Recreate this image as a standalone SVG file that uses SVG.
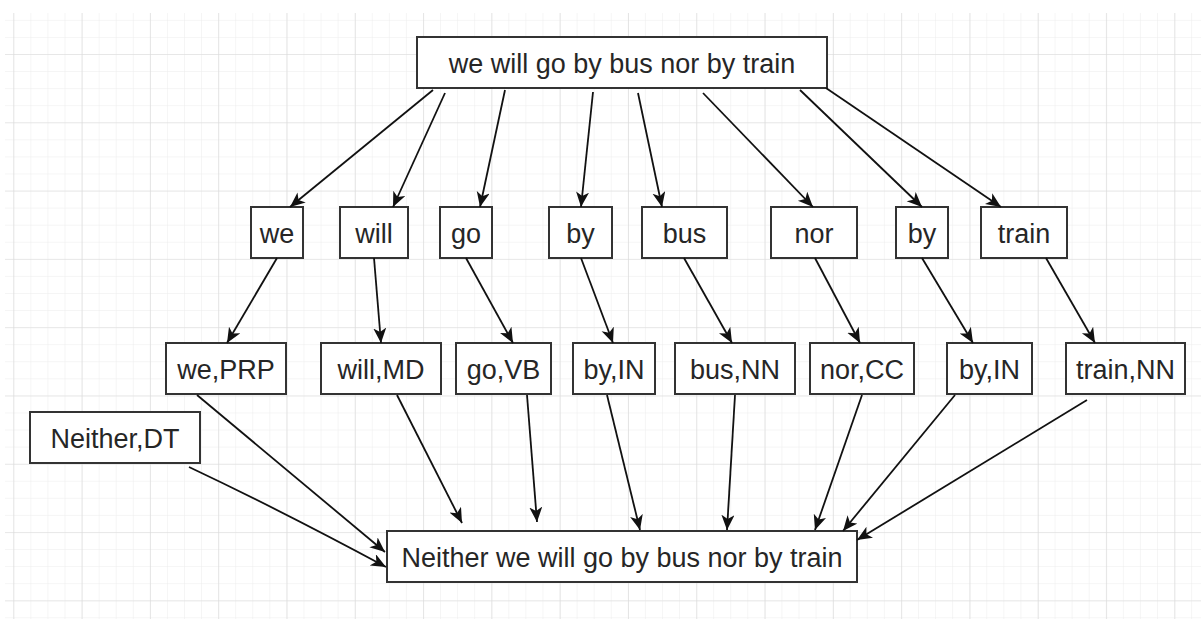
<svg xmlns="http://www.w3.org/2000/svg" width="1201" height="619" viewBox="0 0 1201 619">
  <defs>
    <pattern id="minor" x="13.3" y="54" width="17.07" height="17.07" patternUnits="userSpaceOnUse">
      <path d="M0,0 H17.07 M0,0 V17.07" fill="none" stroke="#ececec" stroke-width="1"/>
    </pattern>
    <pattern id="major" x="13.3" y="54" width="68.3" height="68.3" patternUnits="userSpaceOnUse">
      <path d="M0,0 H68.3 M0,0 V68.3" fill="none" stroke="#dadada" stroke-width="1.2"/>
    </pattern>
    <marker id="arrow" markerUnits="userSpaceOnUse" markerWidth="16" markerHeight="14" refX="15" refY="6.5" orient="auto">
      <path d="M0,0 L15,6.5 L0,13 L4,6.5 Z" fill="#111"/>
    </marker>
    <style>
      .box { fill: #fff; stroke: #333; stroke-width: 2; }
      .lbl { font-family: "Liberation Sans", Arial, sans-serif; font-size: 27px; fill: #262626; text-anchor: middle; }
      .edge { fill: none; stroke: #111; stroke-width: 1.8; marker-end: url(#arrow); }
    </style>
  </defs>

  <!-- canvas grid -->
  <rect width="1201" height="619" fill="#fff"/>
  <rect x="5" y="13" width="1196" height="606" fill="url(#minor)"/>
  <rect x="5" y="13" width="1196" height="606" fill="url(#major)"/>

  <!-- sentence -->
  <g id="sentence">
    <rect class="box" x="417" y="37" width="410" height="51"/>
    <text class="lbl" x="622" y="73">we will go by bus nor by train</text>
  </g>

  <!-- tokens -->
  <g id="tok-we"><rect class="box" x="251" y="207" width="52" height="51"/><text class="lbl" x="277" y="243">we</text></g>
  <g id="tok-will"><rect class="box" x="340" y="207" width="68" height="51"/><text class="lbl" x="374" y="243">will</text></g>
  <g id="tok-go"><rect class="box" x="440" y="207" width="52" height="51"/><text class="lbl" x="466" y="243">go</text></g>
  <g id="tok-by1"><rect class="box" x="549" y="207" width="63" height="51"/><text class="lbl" x="580.5" y="243">by</text></g>
  <g id="tok-bus"><rect class="box" x="642" y="207" width="85" height="51"/><text class="lbl" x="684.5" y="243">bus</text></g>
  <g id="tok-nor"><rect class="box" x="771" y="207" width="86" height="51"/><text class="lbl" x="814" y="243">nor</text></g>
  <g id="tok-by2"><rect class="box" x="896" y="207" width="52" height="51"/><text class="lbl" x="922" y="243">by</text></g>
  <g id="tok-train"><rect class="box" x="981" y="207" width="86" height="51"/><text class="lbl" x="1024" y="243">train</text></g>

  <!-- tagged tokens -->
  <g id="tag-we"><rect class="box" x="166" y="343" width="120" height="51"/><text class="lbl" x="226" y="379">we,PRP</text></g>
  <g id="tag-will"><rect class="box" x="321" y="343" width="120" height="51"/><text class="lbl" x="381" y="379">will,MD</text></g>
  <g id="tag-go"><rect class="box" x="456" y="343" width="95" height="51"/><text class="lbl" x="503.5" y="379">go,VB</text></g>
  <g id="tag-by1"><rect class="box" x="573" y="343" width="82" height="51"/><text class="lbl" x="614" y="379">by,IN</text></g>
  <g id="tag-bus"><rect class="box" x="675" y="343" width="120" height="51"/><text class="lbl" x="735" y="379">bus,NN</text></g>
  <g id="tag-nor"><rect class="box" x="810" y="343" width="104" height="51"/><text class="lbl" x="862" y="379">nor,CC</text></g>
  <g id="tag-by2"><rect class="box" x="947" y="343" width="85" height="51"/><text class="lbl" x="989.5" y="379">by,IN</text></g>
  <g id="tag-train"><rect class="box" x="1066" y="343" width="119" height="51"/><text class="lbl" x="1125.5" y="379">train,NN</text></g>
  <g id="tag-neither"><rect class="box" x="30" y="412" width="170" height="51"/><text class="lbl" x="115" y="448">Neither,DT</text></g>

  <!-- result -->
  <g id="result">
    <rect class="box" x="387" y="531" width="470" height="51"/>
    <text class="lbl" x="622" y="567">Neither we will go by bus nor by train</text>
  </g>

  <!-- connectors -->
  <g id="connectors">
    <line class="edge" x1="433" y1="90" x2="290" y2="207"/>
    <line class="edge" x1="445" y1="93" x2="393" y2="207"/>
    <line class="edge" x1="505" y1="90" x2="480" y2="207"/>
    <line class="edge" x1="593" y1="92" x2="581" y2="207"/>
    <line class="edge" x1="638" y1="93" x2="662" y2="207"/>
    <line class="edge" x1="703" y1="93" x2="813" y2="207"/>
    <line class="edge" x1="800" y1="90" x2="922" y2="207"/>
    <line class="edge" x1="826" y1="88" x2="1001" y2="207"/>

    <line class="edge" x1="277" y1="258" x2="227" y2="343"/>
    <line class="edge" x1="374" y1="258" x2="381" y2="343"/>
    <line class="edge" x1="466" y1="258" x2="513" y2="343"/>
    <line class="edge" x1="581" y1="258" x2="613" y2="343"/>
    <line class="edge" x1="684" y1="258" x2="732" y2="343"/>
    <line class="edge" x1="815" y1="258" x2="860" y2="343"/>
    <line class="edge" x1="922" y1="258" x2="973" y2="343"/>
    <line class="edge" x1="1046" y1="258" x2="1095" y2="343"/>

    <line class="edge" x1="197" y1="395" x2="385" y2="552"/>
    <path class="edge" d="M189,467 Q280,510 386,567"/>
    <line class="edge" x1="397" y1="395" x2="462" y2="523"/>
    <line class="edge" x1="527" y1="395" x2="537" y2="522"/>
    <line class="edge" x1="607" y1="395" x2="640" y2="530"/>
    <line class="edge" x1="735" y1="395" x2="727" y2="530"/>
    <line class="edge" x1="862" y1="395" x2="815" y2="530"/>
    <line class="edge" x1="955" y1="395" x2="843" y2="531"/>
    <line class="edge" x1="1087" y1="400" x2="857" y2="540"/>
  </g>
</svg>
